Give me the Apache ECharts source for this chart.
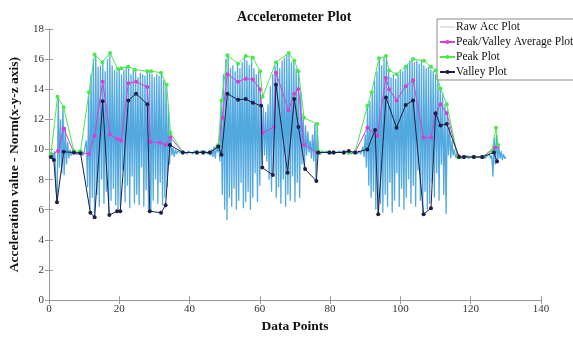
<!DOCTYPE html>
<html>
<head>
<meta charset="utf-8">
<script src="https://cdn.jsdelivr.net/npm/echarts@6.0.0/dist/echarts.min.js"></script>
<style>
  html, body { margin: 0; padding: 0; background: #fff; }
  #chart { width: 573px; height: 339px; }
</style>
</head>
<body>
<div id="chart"></div>
<script>
// raw accelerometer norm, one sample every 1/3 data point
var rawDx = 1 / 3;
var rawVals = [
  9.5,9.7,9.4,9.8,9.3,9.9,7.5,6.5,13.5,8.8,12.0,8.4,12.8,8.3,11.5,9.0,10.5,9.4,10.0,9.6,
  9.9,9.7,9.9,9.7,9.8,9.7,9.9,9.7,9.8,9.6,9.8,9.7,10.6,
  7.5,13.8,6.0,15.0,6.8,16.0,5.6,16.2,7.0,15.5,6.2,15.6,8.0,15.8,6.4,15.2,7.2,16.0,5.8,16.3,
  6.6,15.6,7.4,15.3,6.3,15.2,5.9,15.4,6.2,15.0,8.6,15.3,6.5,15.5,7.6,15.4,6.1,15.0,8.2,15.3,
  6.4,15.2,7.0,14.8,6.3,15.1,8.8,15.0,6.2,14.9,7.3,15.2,6.0,15.1,5.9,15.0,6.6,14.8,8.0,15.0,
  6.4,14.9,7.8,15.1,6.3,14.6,6.8,14.2,7.5,13.0,9.0,11.2,
  9.6,10.1,9.5,10.0,9.7,9.9,9.8,9.8,9.7,9.9,9.8,9.8,9.8,9.7,9.9,9.8,9.8,9.8,9.7,9.9,
  9.8,9.8,9.8,9.8,9.7,9.9,9.8,9.8,9.8,9.9,9.7,9.8,9.9,9.6,10.0,9.5,10.2,9.4,10.3,
  9.8,10.3,9.2,13.2,7.0,15.0,6.0,16.0,5.3,16.2,6.8,15.4,6.2,15.6,7.4,15.2,6.0,15.7,6.6,15.4,
  7.8,15.8,6.1,16.2,6.5,15.9,7.2,15.6,6.0,16.1,6.8,15.4,8.4,15.0,6.5,15.2,7.6,13.5,9.0,12.8,
  9.6,12.5,9.2,13.0,8.0,14.2,7.2,15.0,8.4,15.6,6.8,15.8,7.5,15.4,6.4,15.9,8.0,16.1,6.2,16.3,
  7.0,16.4,6.6,15.8,8.2,15.9,6.5,15.4,7.8,15.2,6.8,13.8,9.0,12.4,8.6,11.6,9.6,11.2,9.8,10.6,
  9.4,11.0,9.2,11.7,7.9,11.6,9.7,
  9.8,9.7,9.9,9.8,9.8,9.7,9.9,9.8,9.8,9.8,9.7,9.9,9.8,9.8,9.8,9.8,9.7,9.9,9.8,9.8,
  9.8,9.7,9.9,9.8,9.8,9.8,9.9,9.7,9.8,9.8,9.8,9.9,9.7,9.8,9.9,9.7,
  9.9,10.2,9.5,11.0,8.8,12.9,7.6,13.2,6.8,13.8,7.2,14.6,6.0,15.2,5.7,16.0,6.4,15.6,5.8,16.1,
  7.0,16.2,6.2,15.2,7.8,14.8,5.8,15.0,6.6,14.7,8.4,15.0,6.2,15.3,7.4,15.2,6.0,15.5,6.8,15.7,
  8.0,15.9,6.4,16.0,7.6,15.8,6.2,15.9,8.6,15.7,6.6,15.9,5.8,15.6,7.2,15.4,6.0,15.5,6.4,15.3,
  7.8,15.2,6.8,15.0,8.4,14.6,6.6,14.0,9.0,13.8,7.0,13.0,5.7,12.6,9.6,11.5,9.4,10.6,9.6,10.0,
  9.5,
  9.6,9.4,9.5,9.5,9.6,9.4,9.5,9.5,9.5,9.6,9.4,9.5,9.5,9.5,9.6,9.4,9.5,9.5,9.5,9.5,
  9.6,9.4,9.5,9.6,9.4,9.5,9.6,9.5,9.7,9.4,
  9.6,8.2,10.8,9.0,11.0,9.2,10.2,9.4,9.9,9.3,9.7,9.4,9.5
];

var peakX = [0.6,2.45,4.2,7.1,9.0,11.4,13.0,15.2,17.4,19.6,20.6,22.6,24.5,28.0,29.1,31.9,33.5,34.6,38.1,42.1,43.9,45.8,
  48.2,49.1,50.8,53.8,56.0,58.0,60.1,60.8,64.6,68.2,69.8,71.0,72.6,76.3,76.6,79.8,81.0,83.9,85.3,87.1,
  90.6,91.8,93.9,95.9,96.8,98.9,101.5,103.6,106.7,108.7,110.0,111.4,113.2,116.3,118.1,120.9,123.3,126.1,127.2,127.8];
var peakY = [9.7,13.5,12.8,9.9,9.9,13.8,16.3,15.8,16.4,15.35,15.4,15.5,15.3,15.2,15.2,15.1,14.3,11.1,9.8,9.8,9.8,9.8,
  10.3,13.25,16.25,15.7,16.2,16.1,15.2,13.5,15.8,16.4,15.9,15.2,12.1,11.7,9.9,9.8,9.8,9.8,9.8,9.8,
  12.9,13.8,16.05,16.2,15.25,15.0,15.5,16.0,15.9,15.5,15.25,14.05,13.0,9.5,9.5,9.5,9.5,9.9,11.45,10.3];

var valleyX = [0.6,1.4,2.3,4.2,7.1,9.0,11.8,13.0,15.3,17.2,19.4,20.3,22.6,24.8,28.0,28.7,31.9,33.2,34.4,38.1,42.1,43.9,45.8,
  48.2,49.1,50.8,53.8,56.0,58.0,60.4,60.7,63.7,64.6,67.9,69.8,71.0,72.9,76.1,76.6,79.8,81.0,83.9,85.3,87.1,
  90.6,92.8,93.7,95.9,98.9,101.5,103.6,106.6,108.7,110.0,111.4,113.2,116.7,118.1,120.9,123.3,126.6,127.5];
var valleyY = [9.5,9.3,6.5,9.85,9.8,9.75,5.8,5.5,13.2,5.65,5.9,5.9,13.25,13.7,13.0,5.9,5.8,6.3,10.3,9.8,9.8,9.8,9.8,
  10.2,9.65,13.7,13.3,13.35,13.1,12.9,8.8,8.3,14.3,8.45,13.35,11.5,8.7,7.9,9.8,9.8,9.8,9.8,9.9,9.8,
  10.0,11.3,5.7,13.45,11.45,12.95,13.25,5.7,6.1,12.4,11.6,11.7,9.5,9.5,9.5,9.5,9.8,9.2];

var avgX = [0.6,2.6,4.2,7.1,9.0,11.4,13.0,15.3,17.4,19.5,20.6,22.6,24.8,28.0,28.9,31.7,33.2,34.6,38.1,42.1,43.9,45.8,
  48.2,49.3,50.8,53.8,56.0,58.0,60.1,60.8,64.1,64.6,68.2,69.8,71.0,72.6,76.3,79.8,81.0,83.9,85.3,87.1,
  90.6,93.4,95.9,96.8,98.9,101.5,103.6,106.6,108.7,110.0,111.4,113.2,116.3,118.1,120.9,123.3,126.6,127.5];
var avgY = [9.6,9.9,11.4,9.8,9.8,9.7,10.9,14.5,11.0,10.7,10.6,14.4,14.5,14.15,10.5,10.45,10.3,10.8,9.8,9.8,9.8,9.8,
  10.2,12.1,15.0,14.5,14.7,14.65,14.0,11.1,11.5,15.1,12.6,13.7,14.0,10.3,9.8,9.8,9.8,9.8,9.8,9.8,
  11.45,10.9,14.75,14.0,13.25,14.2,14.6,10.8,10.8,12.3,13.0,12.4,9.6,9.5,9.5,9.5,10.1,10.2];

var xTicks = [0, 140, 20];
var yTicks = [0, 18, 2];

function pairs(xs, ys) {
  return xs.map(function (x, i) { return [x, ys[i]]; });
}
var rawData = rawVals.map(function (v, i) { return [i * rawDx, v]; });

var serif = 'Liberation Serif';
var chart = echarts.init(document.getElementById('chart'));

var axisCommon = {
  type: 'value',
  axisLine: { show: true, lineStyle: { color: '#9a9a9a', width: 1 } },
  axisTick: { show: true, inside: true, length: 4, lineStyle: { color: '#9a9a9a' } },
  splitLine: { show: false }
};

chart.setOption({
  animation: false,
  backgroundColor: '#fff',
  title: {
    text: 'Accelerometer Plot',
    left: 232,
    top: 5,
    textStyle: { fontFamily: serif, fontWeight: 'bold', fontSize: 14, color: '#111' }
  },
  legend: {
    orient: 'vertical',
    left: 437,
    top: 19,
    padding: [2, 40, 2, 2],
    itemWidth: 15,
    itemHeight: 5,
    itemGap: 3,
    backgroundColor: '#fff',
    borderColor: '#8a8a8a',
    borderWidth: 1,
    textStyle: { fontFamily: serif, fontSize: 11.5, color: '#111', padding: [0, 0, 0, -4] },
    data: [
      { name: 'Raw Acc Plot', icon: 'path://M0,0H30V1H0Z', itemStyle: { color: '#6f9fc4' } },
      'Peak/Valley Average Plot', 'Peak Plot', 'Valley Plot'
    ]
  },
  grid: { left: 44, right: 32, top: 29, bottom: 31 },
  xAxis: [
    Object.assign({}, axisCommon, {
      min: xTicks[0], max: xTicks[1], interval: xTicks[2],
      name: 'Data Points',
      nameLocation: 'middle',
      nameGap: 17,
      nameTextStyle: { fontFamily: serif, fontWeight: 'bold', fontSize: 13.5, color: '#111' },
      axisLabel: { fontFamily: serif, fontSize: 11, color: '#333', margin: 4 }
    }),
    Object.assign({}, axisCommon, {
      position: 'top',
      min: xTicks[0], max: xTicks[1], interval: xTicks[2],
      axisLabel: { show: false }
    })
  ],
  yAxis: [
    Object.assign({}, axisCommon, {
      min: yTicks[0], max: yTicks[1], interval: yTicks[2],
      name: 'Acceleration value - Norm(x-y-z axis)',
      nameLocation: 'middle',
      nameGap: 18,
      nameTextStyle: { fontFamily: serif, fontWeight: 'bold', fontSize: 13.5, color: '#111' },
      axisLabel: { fontFamily: serif, fontSize: 11, color: '#333', margin: 5 }
    }),
    Object.assign({}, axisCommon, {
      position: 'right',
      min: yTicks[0], max: yTicks[1], interval: yTicks[2],
      axisLabel: { show: false }
    })
  ],
  series: [
    {
      name: 'Raw Acc Plot',
      type: 'line',
      symbol: 'none',
      data: rawData,
      lineStyle: { color: '#52a9df', width: 1.3 },
      itemStyle: { color: '#52a9df' },
      z: 1
    },
    {
      name: 'Peak/Valley Average Plot',
      type: 'line',
      symbol: 'circle',
      symbolSize: 4,
      data: pairs(avgX, avgY),
      lineStyle: { color: '#d83ed8', width: 1 },
      itemStyle: { color: '#d83ed8' },
      z: 3
    },
    {
      name: 'Peak Plot',
      type: 'line',
      symbol: 'circle',
      symbolSize: 4,
      data: pairs(peakX, peakY),
      lineStyle: { color: '#4be84b', width: 1 },
      itemStyle: { color: '#4be84b' },
      z: 4
    },
    {
      name: 'Valley Plot',
      type: 'line',
      symbol: 'circle',
      symbolSize: 4,
      data: pairs(valleyX, valleyY),
      lineStyle: { color: '#1e1e48', width: 1 },
      itemStyle: { color: '#1e1e48' },
      z: 5
    }
  ]
});
</script>
</body>
</html>
